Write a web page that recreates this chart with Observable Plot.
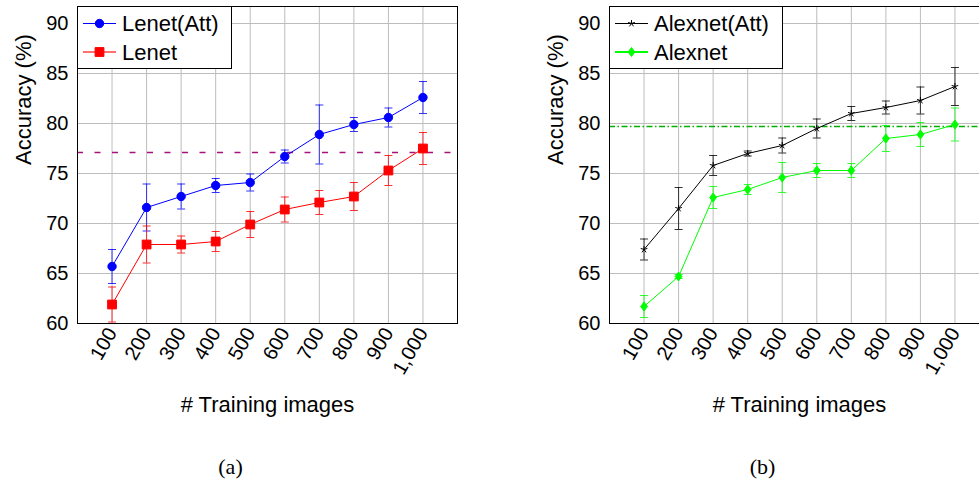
<!DOCTYPE html>
<html><head><meta charset="utf-8">
<script src="https://cdn.jsdelivr.net/npm/d3@7"></script>
<script src="https://cdn.jsdelivr.net/npm/@observablehq/plot@0.6"></script>
<style>
html,body{margin:0;padding:0;background:#fff;overflow:hidden;}
#wrap{position:relative;width:979px;height:487px;overflow:hidden;font-family:"Liberation Sans",Arial,sans-serif;}
.panel{position:absolute;top:0;}
.panel svg{max-width:none !important;}
.legend{position:absolute;top:6px;box-sizing:border-box;border:1px solid #000;background:#fff;}
.legend svg{display:block;}
</style></head><body><div id="wrap"></div>
<script>
// ---- data ----
const trainingImages = [100, 200, 300, 400, 500, 600, 700, 800, 900, 1000];
const xTickLabels = ["100", "200", "300", "400", "500", "600", "700", "800", "900", "1,000"];
const yTicks = [60, 65, 70, 75, 80, 85, 90];
const yTickLabels = ["60", "65", "70", "75", "80", "85", "90"];

const lenetAtt    = [65.7, 71.6, 72.7, 73.8, 74.1, 76.7, 78.9, 79.9, 80.6, 82.6];
const lenetAttErr = [1.7, 2.35, 1.25, 0.7, 0.85, 0.65, 2.95, 0.7, 0.95, 1.6];
const lenet       = [61.9, 67.9, 67.9, 68.2, 69.9, 71.4, 72.1, 72.7, 75.3, 77.5];
const lenetErr    = [1.75, 1.85, 0.85, 1.0, 1.3, 1.25, 1.2, 1.4, 1.5, 1.6];
const lenetRef    = [77.1];

const alexAtt     = [67.4, 71.5, 75.8, 77.0, 77.8, 79.5, 81.0, 81.6, 82.3, 83.7];
const alexAttErr  = [1.05, 2.1, 1.0, 0.25, 0.75, 0.95, 0.7, 0.65, 1.35, 1.9];
const alex        = [61.7, 64.7, 72.6, 73.4, 74.6, 75.3, 75.3, 78.5, 78.9, 79.9];
const alexErr     = [1.1, 0.2, 1.1, 0.5, 1.5, 0.7, 0.7, 1.3, 1.2, 1.65];
const alexRef     = [79.7];

const xLabel = "# Training images";
const yLabel = "Accuracy (%)";

// ---- symbols ----
const rad = s => Math.sqrt(s / Math.PI);
const capSymbol = {draw(c, s){ const r = rad(s); c.moveTo(-r, 0); c.lineTo(r, 0); }};
const starSymbol = {draw(c, s){ const r = rad(s); for (let k = 0; k < 5; k++){ const a = -Math.PI/2 + k*2*Math.PI/5; c.moveTo(0,0); c.lineTo(r*Math.cos(a), r*Math.sin(a)); } }};
const squareSymbol = {draw(c, s){ const r = rad(s); c.rect(-r, -r, 2*r, 2*r); }};
const diamondSymbol = {draw(c, s){ const r = rad(s); c.moveTo(0,-r); c.lineTo(0.75*r,0); c.lineTo(0,r); c.lineTo(-0.75*r,0); c.closePath(); }};
const circleSymbol = {draw(c, s){ const r = rad(s); c.moveTo(r,0); c.arc(0,0,r,0,2*Math.PI); }};

const FONT = "'Liberation Sans', Arial, sans-serif";
const SERIF = "'Liberation Serif', 'DejaVu Serif', serif";

function rowsOf(values, err){
  return trainingImages.map((x, i) => ({x, y: values[i], lo: values[i] - err[i], hi: values[i] + err[i]}));
}

function seriesMarks(s){
  const data = rowsOf(s.values, s.err);
  const filled = s.filled;
  return [
    Plot.ruleX(data, {x: "x", y1: "lo", y2: "hi", stroke: s.color, strokeOpacity: 0.75, strokeWidth: 1}),
    Plot.dot(data, {x: "x", y: "lo", symbol: capSymbol, r: 4, stroke: s.color, strokeOpacity: 0.8, strokeWidth: 1}),
    Plot.dot(data, {x: "x", y: "hi", symbol: capSymbol, r: 4, stroke: s.color, strokeOpacity: 0.8, strokeWidth: 1}),
    Plot.line(data, {x: "x", y: "y", stroke: s.color, strokeWidth: 1}),
    Plot.dot(data, {x: "x", y: "y", symbol: s.symbol, r: s.r, fill: filled ? s.color : "none", stroke: s.color, strokeWidth: 1})
  ];
}

function panel(opts){
  const {left, width, marginRight, series, ref, refStyle, caption} = opts;
  const marks = [
    Plot.gridX(trainingImages, {stroke: "#bdbdbd", strokeOpacity: 1, strokeWidth: 1}),
    Plot.gridY(yTicks, {stroke: "#bdbdbd", strokeOpacity: 1, strokeWidth: 1}),
    Plot.ruleY(ref, refStyle),
    ...series.flatMap(seriesMarks),
    Plot.frame({stroke: "black", strokeWidth: 1}),
    Plot.axisX(trainingImages, {tickFormat: d => xTickLabels[trainingImages.indexOf(d)], tickRotate: -60, tickSize: 0, tickPadding: 6, fontSize: 20, label: null}),
    Plot.axisY(yTicks, {tickFormat: d => yTickLabels[yTicks.indexOf(d)], tickSize: 0, tickPadding: 9, fontSize: 20, label: null}),
    Plot.text([yLabel], {text: d => d, frameAnchor: "left", rotate: -90, dx: -54, fontSize: 22, fill: "black"}),
    Plot.text([xLabel], {text: d => d, frameAnchor: "bottom", dy: 88, fontSize: 22, fill: "black"}),
    Plot.text([caption], {text: d => d, frameAnchor: "bottom", dx: -37, dy: 150, fontSize: 22, fontFamily: SERIF, fill: "black"})
  ];
  const chart = Plot.plot({
    width, height: 487,
    marginLeft: 77, marginRight, marginTop: 6, marginBottom: 164,
    x: {domain: [0, 1100], label: null},
    y: {domain: [60, 91.7], label: null},
    style: {fontFamily: FONT, fontSize: "20px", color: "black", background: "transparent", overflow: "visible", maxWidth: "none"},
    marks
  });
  const div = document.createElement("div");
  div.className = "panel";
  div.style.left = left + "px";
  div.style.width = width + "px";
  div.appendChild(chart);
  document.getElementById("wrap").appendChild(div);

  // legend (inside the frame, top-left corner)
  const lg = document.createElement("div");
  lg.className = "legend";
  lg.style.left = (left + 77) + "px";
  lg.style.width = opts.legendWidth + "px";
  lg.style.height = "63px";
  document.getElementById("wrap").appendChild(lg);
  const svg = d3.select(lg).append("svg").attr("width", opts.legendWidth - 2).attr("height", 61);
  series.forEach((s, i) => {
    const y = 16.5 + i * 28.5;
    svg.append("line").attr("x1", 5).attr("x2", 38).attr("y1", y).attr("y2", y).attr("stroke", s.legendColor || s.color).attr("stroke-width", s.legendWidth || 1);
    svg.append("path").attr("transform", `translate(21.5,${y})`).attr("d", d3.symbol(s.symbol, Math.PI * s.r * s.r)())
      .attr("fill", s.filled ? s.color : "none").attr("stroke", s.color);
    svg.append("text").attr("x", 44).attr("y", y).attr("dy", "0.35em").attr("font-size", 22).attr("font-family", FONT).attr("fill", "black").text(s.name);
  });
}

panel({
  left: 0, width: 480, marginRight: 23, legendWidth: 155, caption: "(a)",
  ref: lenetRef,
  refStyle: {stroke: "#a8107a", strokeWidth: 1.3, strokeDasharray: "6,11.5"},
  series: [
    {name: "Lenet(Att)", values: lenetAtt, err: lenetAttErr, color: "#0000ff", symbol: circleSymbol, r: 4.2, filled: true},
    {name: "Lenet", values: lenet, err: lenetErr, color: "#ff0000", symbol: squareSymbol, r: 4.4, filled: true, legendColor: "#ff7070", legendWidth: 2}
  ]
});

panel({
  left: 532, width: 457, marginRight: 0, legendWidth: 174, caption: "(b)",
  ref: alexRef,
  refStyle: {stroke: "#00b000", strokeWidth: 1.6, strokeDasharray: "6,2.5,1.5,2.5"},
  series: [
    {name: "Alexnet(Att)", values: alexAtt, err: alexAttErr, color: "#000000", symbol: starSymbol, r: 3.5, filled: false},
    {name: "Alexnet", values: alex, err: alexErr, color: "#00ff00", symbol: diamondSymbol, r: 4.5, filled: true, legendWidth: 2}
  ]
});
</script>
</body></html>
